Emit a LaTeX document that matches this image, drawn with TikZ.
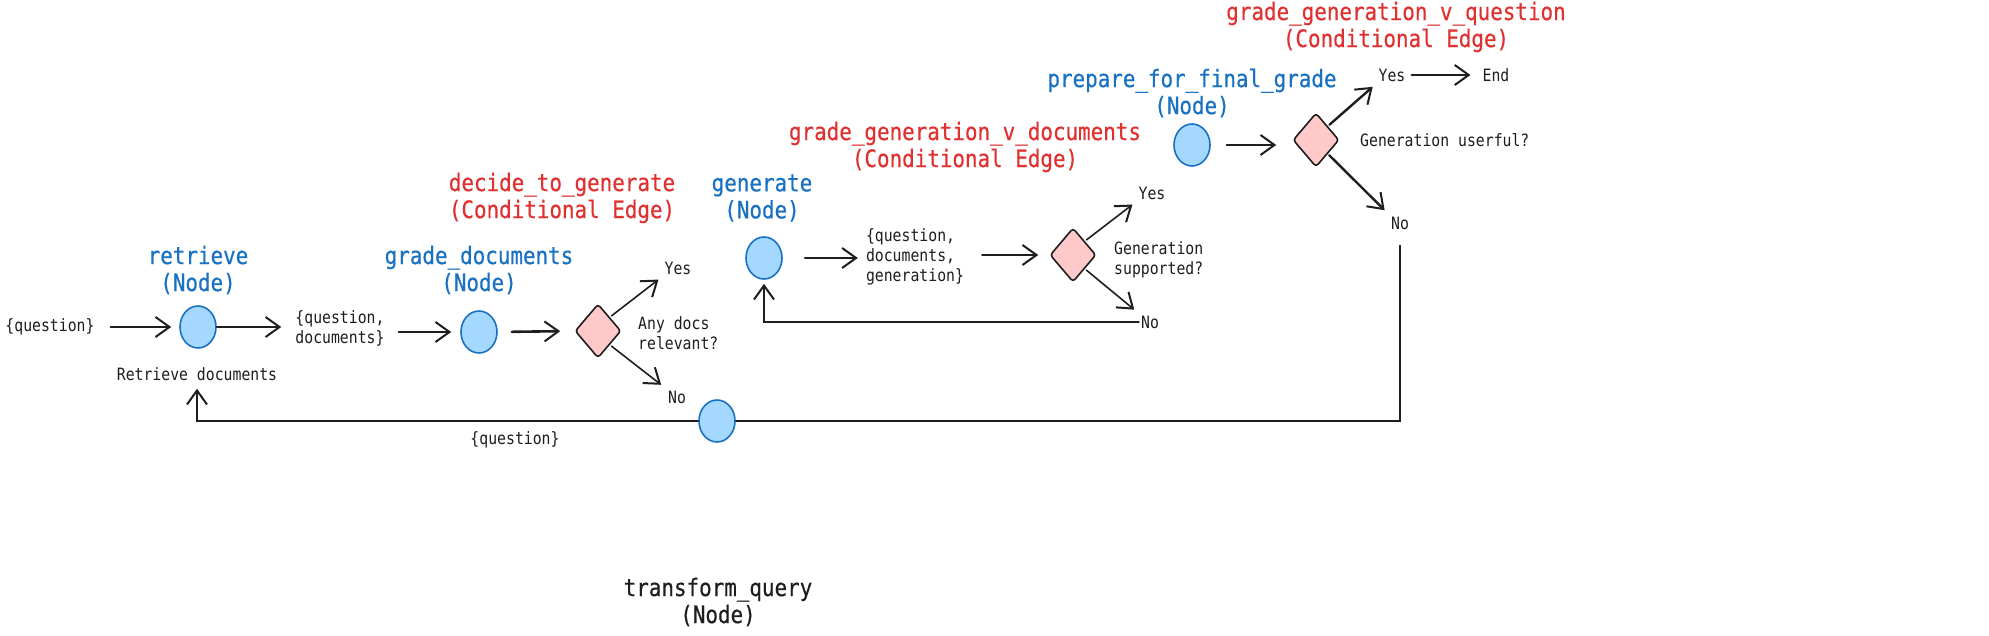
\documentclass[tikz,border=0pt]{standalone}
\usepackage{fontspec}
\usetikzlibrary{shapes.geometric,arrows.meta}
\newfontfamily\monof[FakeStretch=0.87]{DejaVu Sans Mono}
\newfontfamily\monotf[FakeStretch=0.87,FakeBold=0.5]{DejaVu Sans Mono}
\newcommand\titlef{\monotf\fontsize{24}{27}\selectfont}
\newcommand\smallf{\monof\fontsize{17}{20}\selectfont}
\definecolor{ink}{HTML}{1E1E1E}
\definecolor{nodeblue}{HTML}{1971C2}
\definecolor{nodefill}{HTML}{A5D8FF}
\definecolor{edgered}{HTML}{E03131}
\definecolor{condfill}{HTML}{FFC9C9}
\tikzset{
  dot/.style={ellipse, draw=nodeblue, fill=nodefill, line width=1.6pt, minimum width=36pt, minimum height=42pt, inner sep=0pt},
  cond/.style={diamond, draw=ink, fill=condfill, line width=1.6pt, minimum width=46pt, minimum height=54pt, inner sep=0pt, rounded corners=3pt},
  small/.style={font=\smallf, text=ink, align=left, inner sep=2pt},
  nlabel/.style={font=\titlef, text=nodeblue, align=center, inner sep=0pt},
  elabel/.style={font=\titlef, text=edgered, align=center, inner sep=0pt},
  arr/.style={draw=ink, line width=2pt, line cap=round, -{Straight Barb[length=14pt,width=20pt,line width=2pt]}},
  plain/.style={draw=ink, line width=2pt, line cap=round},
}
\begin{document}
\begin{tikzpicture}[x=1pt,y=-1pt]
\useasboundingbox (0,0) rectangle (1989,636);
\fill[white] (0,0) rectangle (1989,636);

% ---- retrieve stage
\node[small] (q0) at (50,327) {\{question\}};
\node[dot] (ret) at (198,327) {};
\node[nlabel] (retL) at (198,270) {retrieve\\(Node)};
\node[small] (retD) at (197,374) {Retrieve documents};
\node[small] (qd) at (340,328) {\{question,\\documents\}};

% ---- grade documents
\node[dot] (gd) at (479,332) {};
\node[nlabel] (gdL) at (479,270) {grade\_documents\\(Node)};
\node[cond] (d1) at (598,331) {};
\node[elabel] (d1L) at (562,198) {decide\_to\_generate\\(Conditional Edge)};
\node[small] (yes1) at (678,268) {Yes};
\node[small] (no1) at (677,397) {No};
\node[small, anchor=west] (q1) at (636,333) {Any docs\\relevant?};

% ---- transform query
\node[dot] (tq) at (717,421) {};
\node[font=\titlef, text=ink, align=center, inner sep=0pt] (tqL) at (718,602) {transform\_query\\(Node)};
\node[small] (qb) at (515,440) {\{question\}};

% ---- generate
\node[dot] (gen) at (764,258) {};
\node[nlabel] (genL) at (762,198) {generate\\(Node)};
\node[small] (qdg) at (915,257) {\{question,\\documents,\\generation\}};
\node[cond] (d2) at (1073,255) {};
\node[elabel] (d2L) at (965,147) {grade\_generation\_v\_documents\\(Conditional Edge)};
\node[small] (yes2) at (1152,193) {Yes};
\node[small] (no2) at (1150,322) {No};
\node[small, anchor=west] (q2) at (1112,260) {Generation\\supported?};

% ---- final grade
\node[dot] (pf) at (1192,145) {};
\node[nlabel] (pfL) at (1192,93) {prepare\_for\_final\_grade\\(Node)};
\node[cond] (d3) at (1316,140) {};
\node[elabel] (d3L) at (1396,27) {grade\_generation\_v\_question\\(Conditional Edge)};
\node[small] (yes3) at (1392,75) {Yes};
\node[small] (end) at (1496,75) {End};
\node[small, anchor=west] (q3) at (1358,140) {Generation userful?};
\node[small] (no3) at (1400,223) {No};

% ---- connectors
\draw[arr, shorten <=14pt, shorten >=8pt] (q0.east) -- (ret.west);
\draw[arr, shorten >=12pt] (ret.east) -- (qd.west |- ret.east);
\draw[arr, shorten <=12pt, shorten >=9pt] (qd.east |- gd.west) -- (gd.west);
\draw[arr, line width=2.6pt, shorten <=14pt, shorten >=14pt] (gd.east) -- (d1.west);
\draw[arr, line width=1.6pt, shorten <=2pt, shorten >=5pt] (d1.north east) -- (yes1.south west);
\draw[arr, line width=1.6pt, shorten <=2pt, shorten >=6pt] (d1.south east) -- (no1.north west);
\draw[plain, shorten <=14pt] (no3.south) |- (tq.east);
\draw[arr, shorten >=6pt] (tq.west) -| (retD.south);

\draw[arr, shorten <=22pt, shorten >=6pt] (gen.east) -- (qdg.west |- gen.east);
\draw[arr, shorten <=16pt, shorten >=11pt] (qdg.east |- d2.west) -- (d2.west);
\draw[arr, line width=1.6pt, shorten <=2pt, shorten >=5pt] (d2.north east) -- (yes2.south west);
\draw[arr, line width=1.6pt, shorten <=2pt, shorten >=6pt] (d2.south east) -- (no2.north west);
\draw[arr, line width=1.6pt, shorten >=4pt] (no2.west) -| (gen.south);

\draw[arr, line width=2.4pt, shorten <=16pt, shorten >=16pt] (pf.east) -- (d3.west |- pf.east);
\draw[arr, line width=2.4pt, shorten <=2pt, shorten >=5pt] (d3.north east) -- (yes3.south west);
\draw[arr, shorten <=4pt, shorten >=10pt] (yes3.east) -- (end.west);
\draw[arr, line width=2.4pt, shorten <=2pt, shorten >=6pt] (d3.south east) -- (no3.north west);
\end{tikzpicture}
\end{document}
